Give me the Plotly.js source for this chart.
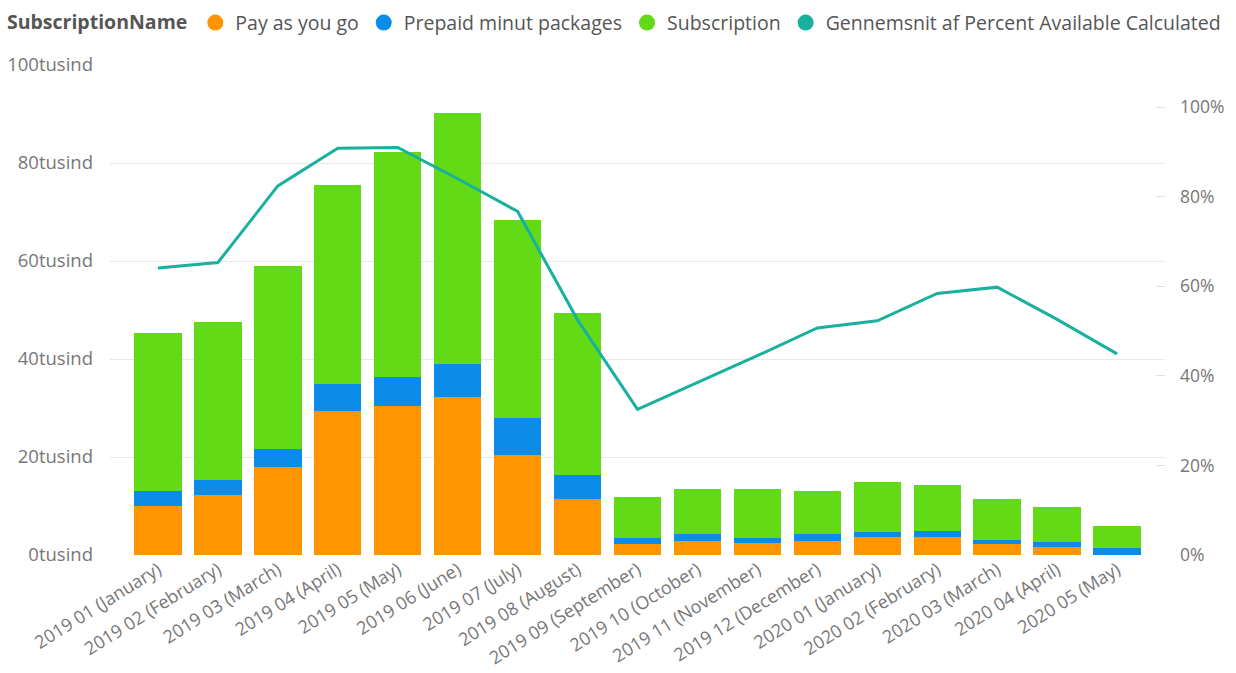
<!DOCTYPE html>
<html>
<head>
<meta charset="utf-8">
<script src="https://cdn.plot.ly/plotly-3.0.1.min.js"></script>
<style>html,body{margin:0;padding:0;background:#fff;}#chart{width:1236px;height:673px;}</style>
</head>
<body>
<div id="chart"></div>
<script>
const categories = ["2019 01 (January)","2019 02 (February)","2019 03 (March)","2019 04 (April)","2019 05 (May)","2019 06 (June)","2019 07 (July)","2019 08 (August)","2019 09 (September)","2019 10 (October)","2019 11 (November)","2019 12 (December)","2020 01 (January)","2020 02 (February)","2020 03 (March)","2020 04 (April)","2020 05 (May)"];
// values in thousands (tusind)
const payAsYouGo = [10.0, 12.2, 17.9, 29.3, 30.5, 32.2, 20.4, 11.4, 2.2, 2.9, 2.5, 2.9, 3.7, 3.7, 2.2, 1.6, 0];
const prepaidPackages = [3.1, 3.1, 3.7, 5.6, 5.9, 6.8, 7.5, 4.9, 1.2, 1.3, 0.9, 1.3, 0.9, 1.3, 0.9, 1.1, 1.5];
const subscription = [32.2, 32.3, 37.4, 40.7, 45.9, 51.2, 40.5, 33.1, 8.5, 9.2, 10.0, 8.9, 10.3, 9.2, 8.4, 7.0, 4.5];
// percent
const percentAvailable = [64.1, 65.3, 82.4, 90.8, 91.0, 84.0, 76.7, 52.5, 32.5, 38.5, 44.5, 50.7, 52.3, 58.4, 59.8, 52.6, 44.9];
const leftTickVals = [0, 20, 40, 60, 80, 100];
const leftTickText = ["0tusind", "20tusind", "40tusind", "60tusind", "80tusind", "100tusind"];
const rightTickVals = [0, 20, 40, 60, 80, 100];
const rightTickText = ["0%", "20%", "40%", "60%", "80%", "100%"];
const seriesNames = ["Pay as you go", "Prepaid minut packages", "Subscription", "Gennemsnit af Percent Available Calculated"];

const colors = ["#FF9500", "#0C8CE9", "#63DA16", "#19B09F"];
const FONT = "'Open Sans', 'Noto Sans', sans-serif";

const traces = [
  {type: "bar", x: categories, y: payAsYouGo, name: seriesNames[0], marker: {color: colors[0]}, showlegend: false},
  {type: "bar", x: categories, y: prepaidPackages, name: seriesNames[1], marker: {color: colors[1]}, showlegend: false},
  {type: "bar", x: categories, y: subscription, name: seriesNames[2], marker: {color: colors[2]}, showlegend: false},
  {type: "scatter", mode: "lines", x: categories, y: percentAvailable, yaxis: "y2", name: seriesNames[3], line: {color: colors[3], width: 3}, showlegend: false}
];
// legend entries with round markers
seriesNames.forEach((n, i) => {
  traces.push({type: "scatter", mode: "markers", x: [null], y: [null], name: n, marker: {color: colors[i], size: 16, symbol: "circle"}, showlegend: true, hoverinfo: "skip"});
});

const layout = {
  width: 1236, height: 673, autosize: false,
  margin: {l: 110, r: 71, t: 65, b: 118, pad: 0},
  paper_bgcolor: "#ffffff", plot_bgcolor: "#ffffff",
  font: {family: FONT, color: "#777777", size: 15},
  barmode: "stack",
  bargap: 0.21,
  showlegend: true,
  legend: {
    orientation: "h", xref: "container", yref: "container",
    x: 0.004, xanchor: "left", y: 0.995, yanchor: "top",
    font: {family: FONT, size: 19.5, color: "#555555"},
    title: {text: "<b>SubscriptionName</b>", font: {family: FONT, size: 19.5, color: "#555555"}},
    itemwidth: 30, tracegroupgap: 0, traceorder: "normal"
  },
  xaxis: {
    type: "category", range: [-0.8, 16.8], tickangle: -32, automargin: false,
    showgrid: false, zeroline: false, showline: false, ticks: "",
    tickfont: {family: FONT, size: 18, color: "#777777"}
  },
  yaxis: {
    range: [0, 100], tickvals: leftTickVals, ticktext: leftTickText, automargin: false,
    showgrid: true, gridcolor: "#E8E8E8", gridwidth: 1, zeroline: false, showline: false,
    ticks: "", ticklabelstandoff: 16,
    tickfont: {family: FONT, size: 18.5, color: "#777777"}
  },
  yaxis2: {
    overlaying: "y", side: "right", range: [0, 109.4], automargin: false,
    tickvals: rightTickVals, ticktext: rightTickText,
    showgrid: false, zeroline: false, showline: false,
    ticks: "inside", ticklen: 9, tickcolor: "#E0E0E0", tickwidth: 1,
    ticklabelstandoff: 14,
    tickfont: {family: FONT, size: 17.5, color: "#777777"}
  }
};

Plotly.newPlot("chart", traces, layout, {displayModeBar: false, staticPlot: true});
</script>
</body>
</html>
